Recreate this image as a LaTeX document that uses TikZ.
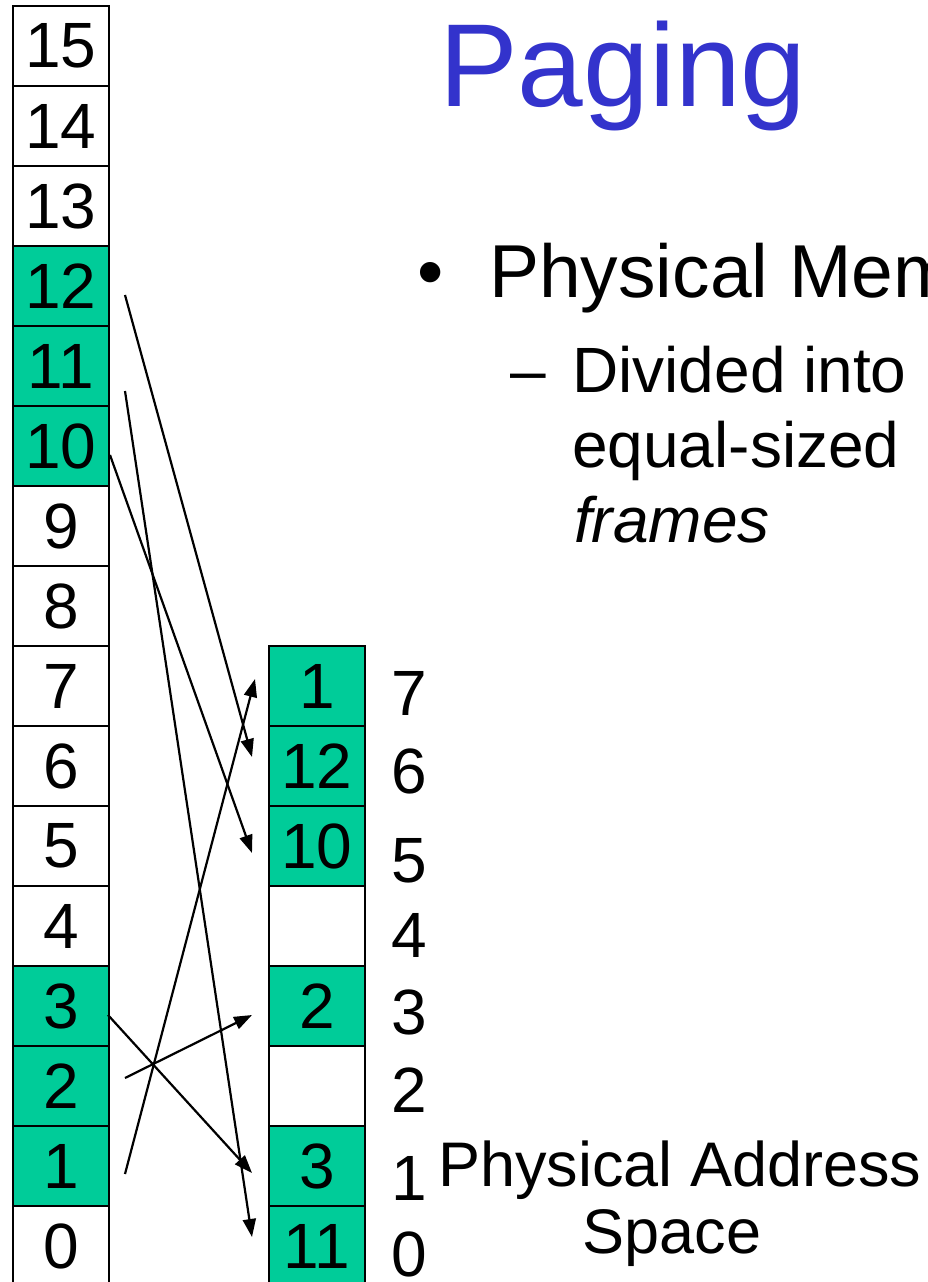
\documentclass[tikz,border=0pt]{standalone}
\usepackage{fontspec}
\setmainfont{Liberation Sans}
\usetikzlibrary{arrows.meta}
\definecolor{cellgreen}{RGB}{0,204,153}
\definecolor{titleblue}{RGB}{51,51,204}
\begin{document}
\begin{tikzpicture}[x=1pt,y=-1pt,
  cell/.style={draw=black, line width=2.2pt, minimum width=96pt, minimum height=80pt,
    inner sep=0pt, font=\fontsize{64}{64}\selectfont, fill=white},
  used/.style={cell, fill=cellgreen},
  idx/.style={anchor=base, inner sep=0pt, font=\fontsize{64}{64}\selectfont},
  map/.style={line width=2.2pt, -{Triangle[length=18pt,width=13pt]}},
  txt/.style={anchor=base west, inner sep=0pt}]
\useasboundingbox (0,0) rectangle (928,1282);
\clip (0,0) rectangle (928,1282);

% logical pages (left column)
\node[cell] (p15) at (61,46)   {15};
\node[cell] (p14) at (61,126)  {14};
\node[cell] (p13) at (61,206)  {13};
\node[used] (p12) at (61,286)  {12};
\node[used] (p11) at (61,366)  {11};
\node[used] (p10) at (61,446)  {10};
\node[cell] (p9)  at (61,526)  {9};
\node[cell] (p8)  at (61,606)  {8};
\node[cell] (p7)  at (61,686)  {7};
\node[cell] (p6)  at (61,766)  {6};
\node[cell] (p5)  at (61,846)  {5};
\node[cell] (p4)  at (61,926)  {4};
\node[used] (p3)  at (61,1006) {3};
\node[used] (p2)  at (61,1086) {2};
\node[used] (p1)  at (61,1166) {1};
\node[cell] (p0)  at (61,1246) {0};

% physical frames (right column)
\node[used] (f7) at (317,686)  {1};
\node[used] (f6) at (317,766)  {12};
\node[used] (f5) at (317,846)  {10};
\node[cell] (f4) at (317,926)  {};
\node[used] (f3) at (317,1006) {2};
\node[cell] (f2) at (317,1086) {};
\node[used] (f1) at (317,1166) {3};
\node[used] (f0) at (317,1246) {11};

% frame numbers
\node[idx] (n7) at (409,715)  {7};
\node[idx] (n6) at (409,793)  {6};
\node[idx] (n5) at (409,882)  {5};
\node[idx] (n4) at (409,957)  {4};
\node[idx] (n3) at (409,1034) {3};
\node[idx] (n2) at (409,1112) {2};
\node[idx] (n1) at (409,1200) {1};
\node[idx] (n0) at (409,1276) {0};

% connector ends
\coordinate (s12) at (125,295);
\coordinate (s11) at (125,391);
\coordinate (s10) at (110,455);
\coordinate (s3)  at (108,1015);
\coordinate (s2)  at (125,1078);
\coordinate (s1)  at (125,1174);
\coordinate (t7) at (255,679);
\coordinate (t6) at (252,757);
\coordinate (t5) at (252,853);
\coordinate (t3) at (252,1015);
\coordinate (t1) at (252,1173);
\coordinate (t0) at (252,1237);

\draw[map] (s12) -- (t6);
\draw[map] (s11) -- (t0);
\draw[map] (s10) -- (t5);
\draw[map] (s3)  -- (t1);
\draw[map] (s2)  -- (t3);
\draw[map] (s1)  -- (t7);

% texts
\node[txt, text=titleblue, font=\fontsize{118}{118}\selectfont] (title) at (439,106) {Paging};
\node[anchor=base, inner sep=0pt, font=\fontsize{75}{75}\selectfont] (bul) at (431,297) {•};
\node[txt, font=\fontsize{75}{75}\selectfont] (pm) at (489,297) {Physical Mem};
\node[anchor=base, inner sep=0pt, font=\fontsize{64}{64}\selectfont] (dash) at (528.5,392) {–};
\node[txt, font=\fontsize{64}{64}\selectfont] (l1) at (572,392) {Divided into};
\node[txt, font=\fontsize{64}{64}\selectfont] (l2) at (572,467) {equal-sized};
\node[txt, font=\fontsize{64}{64}\itshape] (l3) at (574,542) {frames};
\node[anchor=base, inner sep=0pt, font=\fontsize{63}{63}\selectfont] (pa1) at (680,1186) {Physical Address};
\node[anchor=base, inner sep=0pt, font=\fontsize{63}{63}\selectfont] (pa2) at (672,1253) {Space};
\end{tikzpicture}
\end{document}
